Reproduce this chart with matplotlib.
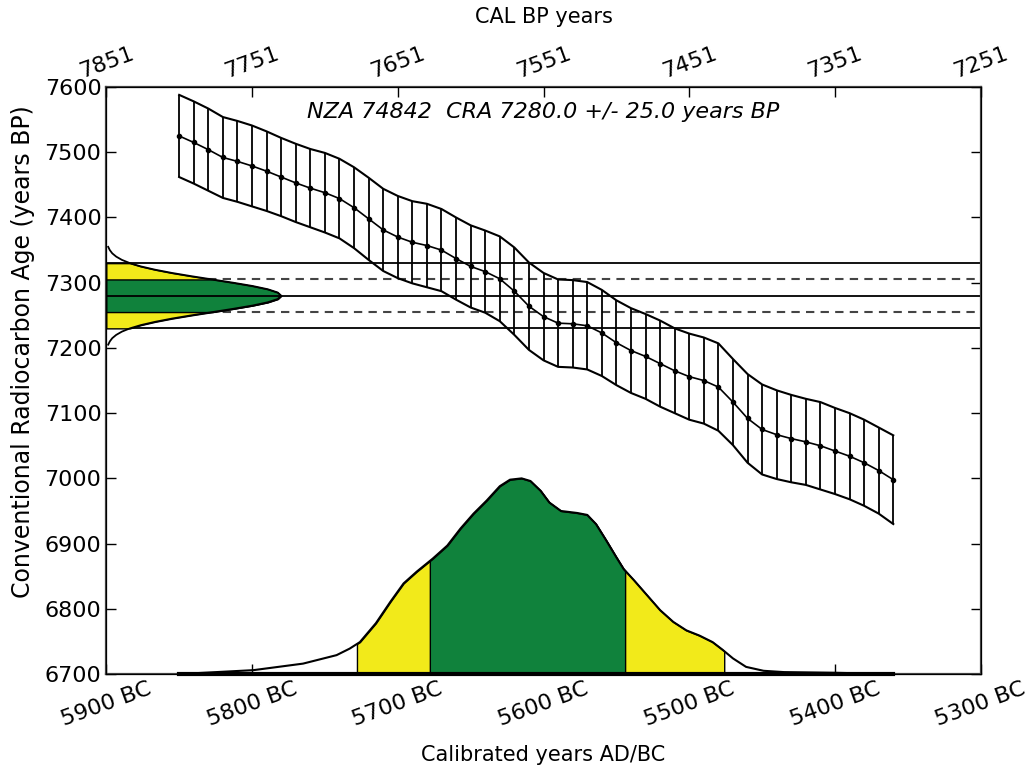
import numpy as np
import matplotlib
matplotlib.use("Agg")
import matplotlib.pyplot as plt

# calibration curve (IntCal-style)
cal_years = list(range(-5850, -5359, 10))
cal_mean = [7525, 7515, 7504, 7492, 7486, 7479, 7471, 7462, 7453, 7445,
            7438, 7429, 7415, 7398, 7381, 7370, 7362, 7357, 7350, 7337,
            7325, 7317, 7306, 7287, 7264, 7248, 7238, 7237, 7234, 7223,
            7208, 7196, 7187, 7176, 7165, 7156, 7150, 7140, 7117, 7092,
            7075, 7067, 7061, 7056, 7050, 7042, 7034, 7024, 7012, 6998]
cal_err = [63, 63, 63, 62, 62, 62, 61, 60, 60, 60,
           61, 61, 62, 63, 63, 63, 63, 64, 63, 63,
           63, 63, 65, 67, 67, 67, 67, 67, 67, 66,
           65, 65, 65, 66, 65, 66, 66, 67, 66, 68,
           69, 68, 67, 66, 67, 66, 66, 66, 66, 68]

# measured radiocarbon age
cra = 7280
cra_sd = 25
cra_ages = [7205, 7210, 7215, 7220, 7225, 7230, 7235, 7240, 7245, 7250,
            7255, 7260, 7265, 7270, 7275, 7280, 7285, 7290, 7295, 7300,
            7305, 7310, 7315, 7320, 7325, 7330, 7335, 7340, 7345, 7350, 7355]
cra_prob = [1.3, 2.4, 4.1, 6.8, 10.7, 16.2, 23.7, 33.4, 45.0, 58.4,
            72.8, 87.1, 100.3, 110.8, 117.6, 120, 117.6, 110.8, 100.3, 87.1,
            72.8, 58.4, 45.0, 33.4, 23.7, 16.2, 10.7, 6.8, 4.1, 2.4, 1.3]

# calibrated probability (in radiocarbon-year units above the 6700 baseline)
prob_years = [-5850, -5799, -5765, -5742, -5733, -5726, -5715, -5705, -5696, -5687,
              -5676, -5666, -5657, -5648, -5639, -5630, -5623, -5615, -5609, -5602,
              -5596, -5588, -5577, -5570, -5564, -5557, -5550, -5545, -5538, -5529,
              -5520, -5511, -5502, -5493, -5484, -5477, -5470, -5461, -5449, -5435,
              -5401, -5360]
prob_vals = [0, 6, 16, 29, 39, 49, 78, 111, 139, 157,
             177, 197, 223, 246, 266, 288, 298, 300, 296, 281,
             263, 250, 247, 244, 230, 205, 179, 161, 144, 121,
             98, 80, 67, 59, 49, 37, 24, 11, 5, 3,
             2, 0]
range_2sd = (-5728, -5476)
range_1sd = (-5678, -5544)

bc_ticks = [-5900, -5800, -5700, -5600, -5500, -5400, -5300]
bp_labels = ["7851", "7751", "7651", "7551", "7451", "7351", "7251"]

green = "#10823c"
yellow = "#f2ea1a"
base = 6700

fig = plt.figure(figsize=(10.28, 7.73), dpi=100)
ax = fig.add_axes([0.1034, 0.128, 0.8506, 0.7594])

# horizontal lines for CRA and its 1/2 sigma
for k in (-2, 0, 2):
    ax.axhline(cra + k * cra_sd, color="black", lw=1.3, zorder=2)
for k in (-1, 1):
    ax.axhline(cra + k * cra_sd, color="#444444", lw=1.5, ls=(0, (4, 3)), zorder=2)

# radiocarbon age distribution on the left
ages = np.array(cra_ages)
px = -5900 + np.array(cra_prob)
ax.fill_betweenx(ages, -5900, px, where=(ages >= cra - 2 * cra_sd) & (ages <= cra + 2 * cra_sd),
                 facecolor=yellow, edgecolor="black", lw=1, zorder=3)
ax.fill_betweenx(ages, -5900, px, where=(ages >= cra - cra_sd) & (ages <= cra + cra_sd),
                 facecolor=green, edgecolor="black", lw=1, zorder=3)
ax.plot(px, ages, color="black", lw=1.3, zorder=4)
ax.axhline(cra, xmax=0.2, color="black", lw=1.3, zorder=4)

# calibration curve with error band
yrs = np.array(cal_years)
mean = np.array(cal_mean)
err = np.array(cal_err)
ax.vlines(yrs, mean - err, mean + err, color="black", lw=1.3, zorder=5)
ax.plot(yrs, mean + err, color="black", lw=1.5, zorder=5)
ax.plot(yrs, mean - err, color="black", lw=1.5, zorder=5)
ax.plot(yrs, mean, color="black", lw=1.2, marker="o", ms=3, zorder=5)

# calibrated date distribution at the bottom
py = np.array(prob_years)
pv = np.array(prob_vals)
for (a, b), col in ((range_2sd, yellow), (range_1sd, green)):
    inside = (py > a) & (py < b)
    xs = np.concatenate([[a], py[inside], [b]])
    ys = np.concatenate([[np.interp(a, py, pv)], pv[inside], [np.interp(b, py, pv)]])
    ax.fill_between(xs, base, base + ys, facecolor=col, edgecolor="black", lw=1, zorder=3)
ax.plot(py, base + pv, color="black", lw=1.5, zorder=4)
ax.plot([py[0], py[-1]], [base, base], color="black", lw=3, zorder=4, clip_on=False)

ax.set_xlim(-5900, -5300)
ax.set_ylim(6700, 7600)
ax.set_xticks(bc_ticks)
ax.set_xticklabels(["%d BC" % -t for t in bc_ticks], rotation=20, fontsize=16)
ax.set_yticks(range(6700, 7601, 100))
ax.tick_params(axis="y", labelsize=16)
ax.tick_params(direction="in", length=7, right=True, width=1)
ax.set_xlabel("Calibrated years AD/BC", fontsize=15, labelpad=11)
ax.set_ylabel("Conventional Radiocarbon Age (years BP)", fontsize=17)
ax.yaxis.set_label_coords(-0.082, 0.55)
for s in ax.spines.values():
    s.set_color("#444444")
    s.set_linewidth(1.6)

ax2 = ax.twiny()
ax2.set_xlim(ax.get_xlim())
ax2.set_xticks(bc_ticks)
ax2.set_xticklabels(bp_labels, rotation=20, fontsize=16)
ax2.tick_params(direction="in", length=7, width=1)
ax2.set_xlabel("CAL BP years", fontsize=15, labelpad=15)

ax.text(0.5, 0.957, "NZA 74842  CRA %.1f +/- %.1f years BP" % (cra, cra_sd),
        transform=ax.transAxes, ha="center", va="center", fontsize=16, style="italic")

fig.savefig("out.png", dpi=100)
